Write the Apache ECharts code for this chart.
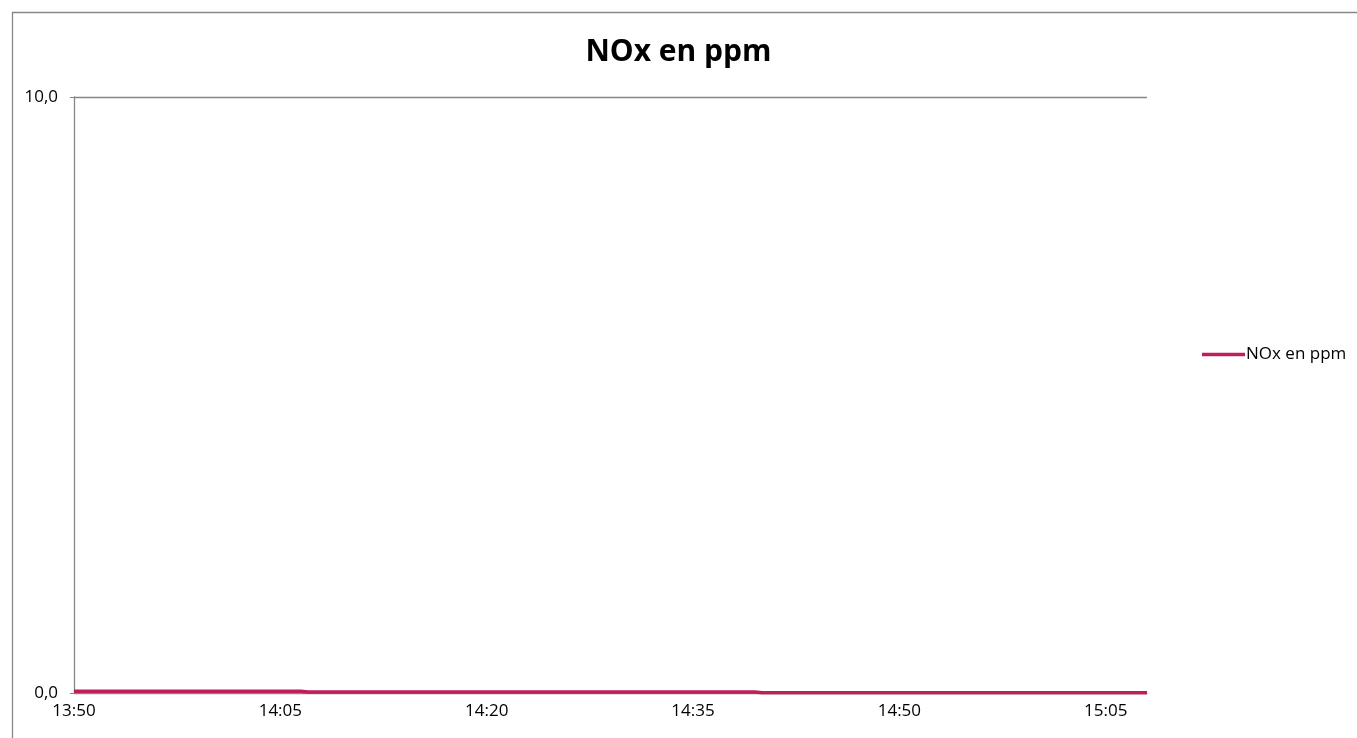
<!DOCTYPE html>
<html>
<head>
<meta charset="utf-8">
<script src="https://cdn.jsdelivr.net/npm/echarts@6/dist/echarts.min.js"></script>
<style>
html,body{margin:0;padding:0;background:#fff;}
#chart{width:1357px;height:738px;}
</style>
</head>
<body>
<div id="chart"></div>
<script>
// Times, one per minute, from 13:50 to 15:08
const times = ["13:50","13:51","13:52","13:53","13:54","13:55","13:56","13:57","13:58","13:59",
"14:00","14:01","14:02","14:03","14:04","14:05","14:06","14:07","14:08","14:09",
"14:10","14:11","14:12","14:13","14:14","14:15","14:16","14:17","14:18","14:19",
"14:20","14:21","14:22","14:23","14:24","14:25","14:26","14:27","14:28","14:29",
"14:30","14:31","14:32","14:33","14:34","14:35","14:36","14:37","14:38","14:39",
"14:40","14:41","14:42","14:43","14:44","14:45","14:46","14:47","14:48","14:49",
"14:50","14:51","14:52","14:53","14:54","14:55","14:56","14:57","14:58","14:59",
"15:00","15:01","15:02","15:03","15:04","15:05","15:06","15:07","15:08"];
const noxValues = [0.03,0.03,0.03,0.03,0.03,0.03,0.03,0.03,0.03,0.03,
0.03,0.03,0.03,0.03,0.03,0.03,0.03,0.015,0.015,0.015,
0.015,0.015,0.015,0.015,0.015,0.015,0.015,0.015,0.015,0.015,
0.015,0.015,0.015,0.015,0.015,0.015,0.015,0.015,0.015,0.015,
0.015,0.015,0.015,0.015,0.015,0.015,0.015,0.015,0.015,0.015,
0.005,0.005,0.005,0.005,0.005,0.005,0.005,0.005,0.005,0.005,
0.005,0.005,0.005,0.005,0.005,0.005,0.005,0.005,0.005,0.005,
0.005,0.005,0.005,0.005,0.005,0.005,0.005,0.005,0.005];
const yTicks = [0, 10];
const seriesName = "NOx en ppm";
const titleText = "NOx en ppm";

const chart = echarts.init(document.getElementById('chart'));
const fontFam = "'Open Sans', 'Noto Sans', sans-serif";
chart.setOption({
  animation: false,
  backgroundColor: '#fff',
  graphic: [{
    type: 'rect', left: 10, top: 10,
    shape: {width: 1400, height: 800},
    style: {fill: 'none', stroke: '#878787', lineWidth: 1.3},
    silent: true, z: -1
  }],
  title: {
    text: titleText, left: 'center', top: 37,
    textStyle: {fontFamily: fontFam, fontSize: 30, fontWeight: 'bold', color: '#000'},
    padding: 0, itemGap: 0
  },
  legend: {
    data: [seriesName], left: 1197, top: 341, orient: 'vertical',
    itemWidth: 43, itemHeight: 3.5, itemGap: 0,
    icon: 'rect',
    textStyle: {fontFamily: fontFam, fontSize: 17, color: '#000', padding: [0,0,0,-4]}
  },
  grid: {left: 74, top: 97, width: 1073, height: 596, containLabel: false},
  xAxis: {
    type: 'category', data: times, boundaryGap: false,
    axisLine: {show: true, lineStyle: {color: '#868686', width: 1}},
    axisTick: {show: false},
    axisLabel: {interval: 14, fontFamily: fontFam, fontSize: 17, color: '#000', margin: 10},
    splitLine: {show: false}
  },
  yAxis: {
    type: 'value', min: yTicks[0], max: yTicks[1], interval: 10,
    axisLine: {show: true, lineStyle: {color: '#868686', width: 1.3}},
    axisTick: {show: true, length: 4, lineStyle: {color: '#868686'}},
    axisLabel: {fontFamily: fontFam, fontSize: 17, color: '#000', margin: 16,
      formatter: v => v.toFixed(1).replace('.', ',')},
    splitLine: {show: true, lineStyle: {color: '#868686', width: 1.3}}
  },
  series: [{
    name: seriesName, type: 'line', data: noxValues, step: 'middle',
    showSymbol: false, symbol: 'none',
    lineStyle: {color: '#BE1E5A', width: 3.5},
    itemStyle: {color: '#BE1E5A'}
  }]
});
</script>
</body>
</html>
